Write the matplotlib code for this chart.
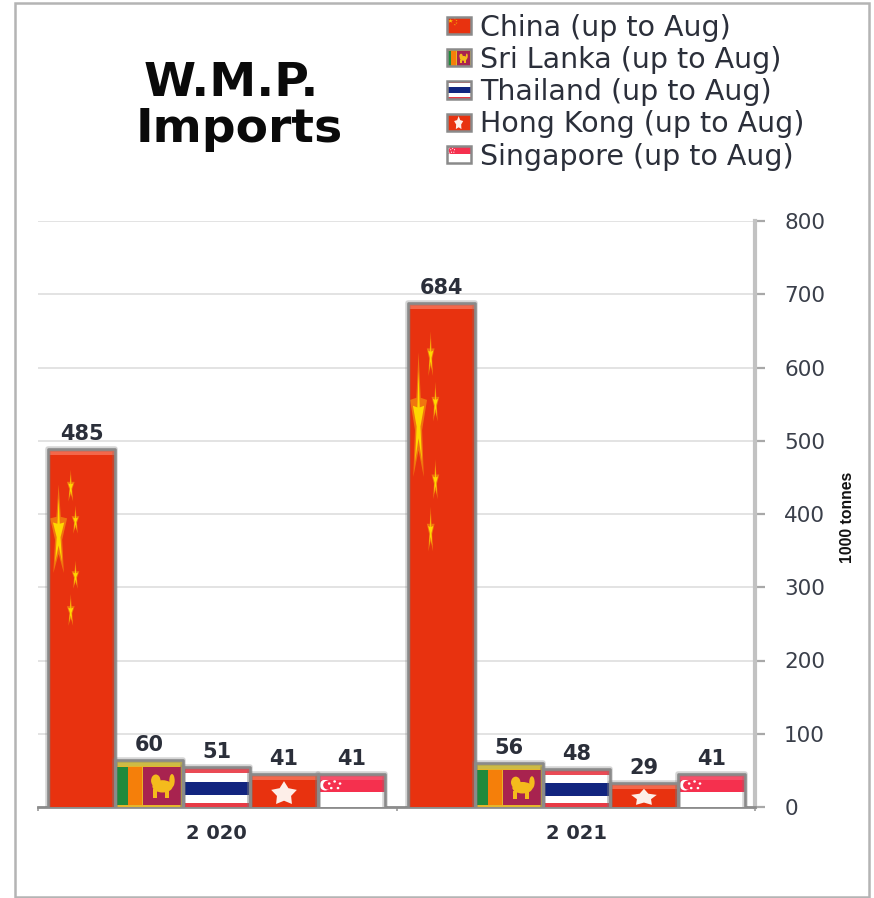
import numpy as np
import matplotlib
matplotlib.use("Agg")
import matplotlib.pyplot as plt
from matplotlib.patches import Rectangle, Polygon, Ellipse, Patch
from matplotlib.transforms import Affine2D
from matplotlib.legend_handler import HandlerBase

years = ["2 020", "2 021"]
countries = ["China", "Sri Lanka", "Thailand", "Hong Kong", "Singapore"]
legend_labels = [c + " (up to Aug)" for c in countries]
values_2020 = [485, 60, 51, 41, 41]
values_2021 = [684, 56, 48, 29, 41]
y_ticks = [0, 100, 200, 300, 400, 500, 600, 700, 800]
cap_colors = {"China": "#f4674a", "Sri Lanka": "#cdbb45", "Thailand": "#ea4a55",
              "Hong Kong": "#f4674a", "Singapore": "#f7506a"}

W, H = 874, 898
TEXT = "#2b2f3a"
RED = "#e8320f"


def star(cx, cy, rx, ry, inner=0.4):
    a = np.pi / 2 + np.arange(10) * np.pi / 5
    r = np.where(np.arange(10) % 2 == 0, 1.0, inner)
    return np.column_stack([cx + rx * r * np.cos(a), cy + ry * r * np.sin(a)])


def flag_artists(name):
    """Flag pieces in the unit square of the mark that carries them."""
    p = []
    rect = lambda x, y, w, h, c: p.append(Rectangle((x, y), w, h, fc=c, ec="none"))
    if name == "China":
        rect(0, 0, 1, 1, RED)
        stars = [(.16, .77, .11, .125, .34), (.34, .90, .05, .045, .3), (.41, .805, .05, .04, .3),
                 (.41, .65, .05, .04, .3), (.34, .55, .05, .045, .3)]
        for cx, cy, rx, ry, inn in stars:
            p.append(Polygon(star(cx, cy, rx * 1.2, ry * 1.1, inn + .08), fc="#f59a10", ec="none", alpha=.65))
            p.append(Polygon(star(cx, cy, rx * .8, ry * .8, inn), fc="#ffd800", ec="none"))
    elif name == "Sri Lanka":
        rect(0, 0, 1, 1, "#e4b62c")
        rect(.03, .05, .16, .86, "#1f8a3c")
        rect(.19, .05, .2, .86, "#f57f0a")
        rect(.41, .05, .56, .86, "#a8234f")
        p.append(Ellipse((.70, .47), .30, .28, fc="#f4bb1c", ec="none"))
        p.append(Ellipse((.60, .60), .14, .28, fc="#f4bb1c", ec="none"))
        p.append(Ellipse((.84, .60), .08, .30, fc="#f4bb1c", ec="none"))
        rect(.56, .2, .06, .2, "#f4bb1c")
        rect(.74, .2, .06, .2, "#f4bb1c")
    elif name == "Thailand":
        rect(0, 0, 1, 1, "#e83a45")
        rect(0, .12, 1, .78, "#ffffff")
        rect(0, .31, 1, .36, "#12257f")
    elif name == "Hong Kong":
        rect(0, 0, 1, 1, RED)
        p.append(Polygon(star(.5, .44, .2, .42, .55), fc="#fdeee8", ec="none"))
    elif name == "Singapore":
        rect(0, 0, 1, 1, "#ffffff")
        rect(0, .5, 1, .5, "#f5304e")
        p.append(Ellipse((.11, .73), .16, .36, fc="#ffffff", ec="none"))
        p.append(Ellipse((.15, .73), .14, .30, fc="#f5304e", ec="none"))
        for dx, dy in [(.25, .85), (.33, .78), (.30, .63), (.2, .63), (.17, .78)]:
            p.append(Ellipse((dx, dy), .04, .08, fc="#ffffff", ec="none"))
    return p


class FlagHandler(HandlerBase):
    def create_artists(self, legend, orig, xd, yd, width, height, fontsize, trans):
        t = Affine2D().scale(width, height).translate(-xd, -yd) + trans
        out = flag_artists(orig.get_label())
        out.append(Rectangle((0, 0), 1, 1, fc="none", ec="#8a8a8a", lw=1.8))
        for a in out:
            a.set_transform(t)
        return out


fig = plt.figure(figsize=(W / 100, H / 100), dpi=100, facecolor="white")
fig.add_artist(Rectangle((15.5 / W, 1 - 896.5 / H), 853 / W, 894 / H, transform=fig.transFigure,
                         fc="none", ec="#b4b4b4", lw=1.8, zorder=-1))
ax = fig.add_axes([38 / W, 1 - 807 / H, 717 / W, 586 / H], facecolor="none")

centers = np.arange(len(years))
bar_w = 0.1875
px_y = 800 / 586
for g, vals in enumerate([values_2020, values_2021]):
    for i, (name, v) in enumerate(zip(countries, vals)):
        x0 = centers[g] + (i - 2.5) * bar_w
        bar = ax.bar(x0, v, width=bar_w, align="edge", color="none", edgecolor="none", zorder=3)[0]
        t = Affine2D().scale(bar.get_width(), bar.get_height()).translate(bar.get_x(), 0) + ax.transData
        for a in flag_artists(name):
            a.set_transform(t)
            a.set_zorder(3.1)
            ax.add_artist(a)
        cap_top = v + 3 * px_y
        ax.add_patch(Rectangle((x0, v - 3 * px_y), bar_w, 6 * px_y, fc=cap_colors[name], ec="none", zorder=3.2))
        outline_x = [x0, x0, x0 + bar_w, x0 + bar_w]
        outline_y = [0, cap_top, cap_top, 0]
        ax.plot(outline_x, outline_y, color="#777777", lw=4, alpha=.3, zorder=3.25, solid_capstyle="butt")
        ax.plot(outline_x, outline_y, color="#8a8a8a", lw=1.9, zorder=3.3,
                solid_joinstyle="round", solid_capstyle="butt")
        ax.annotate(str(v), (x0 + bar_w / 2, v), xytext=(0, 5.5), textcoords="offset points",
                    ha="center", va="bottom", fontsize=15, fontweight="bold", color=TEXT, zorder=4)

ax.set_xlim(-0.496, 1.496)
ax.set_ylim(0, 800)
ax.set_yticks(y_ticks)
ax.yaxis.tick_right()
ax.tick_params(axis="y", length=7, width=1.6, color="#a8a8a8", pad=14, labelsize=15.5, labelcolor="#3a3f4a")
ax.set_xticks(centers)
ax.set_xticklabels(years, fontsize=14, fontweight="bold", color=TEXT)
ax.tick_params(axis="x", which="major", length=0, pad=12)
ax.set_xticks([-0.496, 0.5, 1.496], minor=True)
ax.tick_params(axis="x", which="minor", length=3, width=1.4, color="#a8a8a8")
ax.grid(axis="y", color="#e0e0e0", lw=1.3, zorder=0)
ax.set_axisbelow(True)
for s in ("top", "left"):
    ax.spines[s].set_visible(False)
ax.spines["right"].set_color("#c2c2c2")
ax.spines["right"].set_linewidth(3)
ax.spines["bottom"].set_color("#8c8c8c")
ax.spines["bottom"].set_linewidth(2)

fig.text(848 / W, 1 - 517 / H, "1000 tonnes", rotation=90, ha="center", va="center",
         fontsize=11.3, family=["Liberation Sans Narrow", "Liberation Sans"], fontweight="bold", color="#111111")

fig.text(231 / W, 1 - 84 / H, "W.M.P.", ha="center", va="center", fontsize=34, fontweight="bold", color="#0a0a0a")
fig.text(239 / W, 1 - 129 / H, "Imports", ha="center", va="center", fontsize=34, fontweight="bold", color="#0a0a0a")

handles = [Patch(label=c) for c in countries]
leg = fig.legend(handles, legend_labels, handler_map={h: FlagHandler() for h in handles},
                 loc="upper left", bbox_to_anchor=(441 / W, 1 - 8 / H), frameon=False, fontsize=20.5,
                 labelcolor=TEXT, handlelength=0.84, handleheight=0.55, handletextpad=0.33,
                 labelspacing=0.148, borderpad=0.2, borderaxespad=0)

fig.savefig("out.png", dpi=100, facecolor="white")
